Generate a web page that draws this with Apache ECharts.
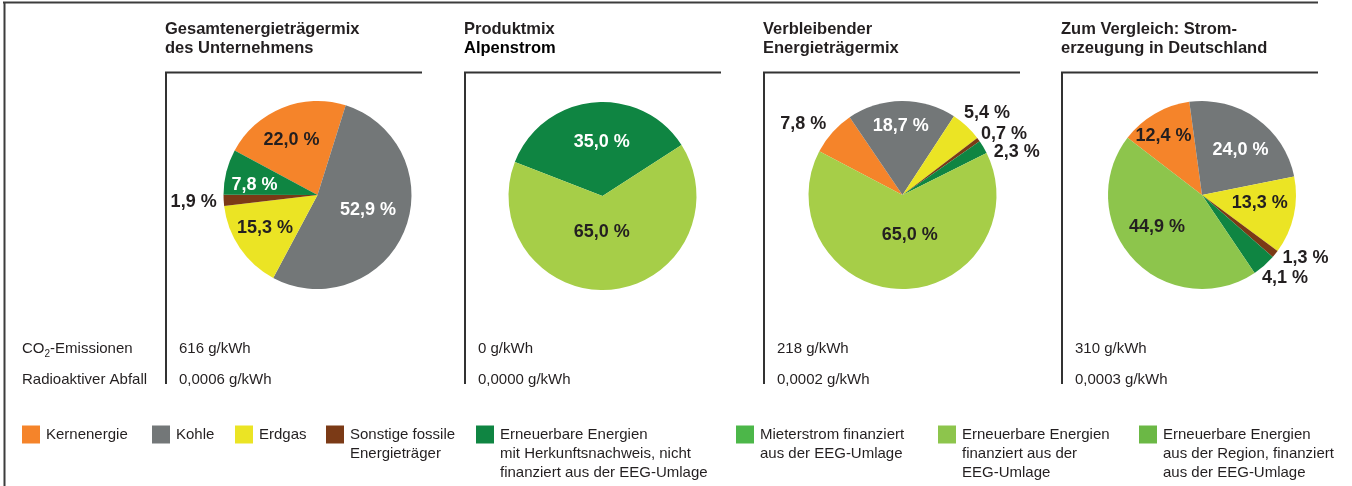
<!DOCTYPE html>
<html>
<head>
<meta charset="utf-8">
<title>Energieträgermix</title>
<script src="https://cdn.jsdelivr.net/npm/echarts@6/dist/echarts.min.js"></script>
<style>
html, body { margin: 0; padding: 0; background: #fff; }
#chart { width: 1352px; height: 486px; }
</style>
</head>
<body>
<div id="chart"></div>
<script>
// Energieträger (Reihenfolge wie in der Legende)
const categories = [
    'Kernenergie',
    'Kohle',
    'Erdgas',
    'Sonstige fossile Energieträger',
    'Erneuerbare Energien mit Herkunftsnachweis, nicht finanziert aus der EEG-Umlage',
    'Mieterstrom finanziert aus der EEG-Umlage',
    'Erneuerbare Energien finanziert aus der EEG-Umlage',
    'Erneuerbare Energien aus der Region, finanziert aus der EEG-Umlage'
]
const legendLines = [
    ['Kernenergie'],
    ['Kohle'],
    ['Erdgas'],
    ['Sonstige fossile', 'Energieträger'],
    ['Erneuerbare Energien', 'mit Herkunftsnachweis, nicht', 'finanziert aus der EEG-Umlage'],
    ['Mieterstrom finanziert', 'aus der EEG-Umlage'],
    ['Erneuerbare Energien', 'finanziert aus der', 'EEG-Umlage'],
    ['Erneuerbare Energien', 'aus der Region, finanziert', 'aus der EEG-Umlage']
]

// Anteile in %
const mixUnternehmen = [22.0, 52.9, 15.3, 1.9, 7.8, 0, 0, 0]
const mixAlpenstrom = [0, 0, 0, 0, 35.0, 0, 65.0, 0]
const mixVerbleibend = [7.8, 18.7, 5.4, 0.7, 2.3, 0, 65.0, 0]
const mixDeutschland = [12.4, 24.0, 13.3, 1.3, 4.1, 0, 44.9, 0]

const panelTitles = [
    ['Gesamtenergieträgermix', 'des Unternehmens'],
    ['Produktmix', 'Alpenstrom'],
    ['Verbleibender', 'Energieträgermix'],
    ['Zum Vergleich: Strom-', 'erzeugung in Deutschland']
]
// g/kWh
const co2Emissionen = [616, 0, 218, 310]
const radioaktiverAbfall = [0.0006, 0.0000, 0.0002, 0.0003]

// ---- Layout / Stil ----
const FONT = '"Liberation Sans", Arial, Helvetica, sans-serif'
const DARK = '#231f20'
const colors = ['#f5842a', '#737778', '#ebe424', '#7b3a16', '#0f8542', '#4cb749', '#8dc54c', '#6bb845']
const lightGreenAlt = '#a6ce48' // etwas hellerer Ton in Produktmix / Verbleibend
const panelLeft = [166, 465, 764, 1062]
const panelWidth = 256
const pieCenters = [[317.5, 195], [602.5, 196], [902.5, 195], [1202, 195]]
const R = 94
const startAngles = [151.8, 158.8, 152.3, 142.4]
// Beschriftung: [Radius-Anteil, Winkelkorrektur in Grad]
const labelPlace = [
    [[0.65, -3], [0.56, -6], [0.66, 2], [1.32, 0], [0.68, -5], null, null, null],
    [null, null, null, null, [0.57, 5], null, [0.38, 7], null],
    [[1.3, -6], [0.73, -1], [1.25, 3], [1.26, 5], [1.3, 10], null, [0.43, -11], null],
    [[0.75, -3], [0.63, 5], [0.62, -4.5], [1.29, -7.5], [1.25, -3.5], null, [0.59, 7.4], null]
]
const whiteLabel = [false, true, false, false, true, false, false, false]

const mixes = [mixUnternehmen, mixAlpenstrom, mixVerbleibend, mixDeutschland]

function fmt(v, d) {
    return v.toFixed(d).replace('.', ',')
}

// Mittelwinkel (von oben, im Uhrzeigersinn) je Segment
function midAngles(values, startAngle) {
    const total = values.reduce((a, b) => a + b, 0)
    let acc = 0
    return values.map(v => {
        const m = 90 - startAngle + ((acc + v / 2) / total) * 360
        acc += v
        return m
    })
}

const chart = echarts.init(document.getElementById('chart'))

const series = mixes.map((values, s) => {
    const mids = midAngles(values, startAngles[s])
    return {
        type: 'pie',
        center: pieCenters[s],
        radius: R,
        startAngle: startAngles[s],
        clockwise: true,
        avoidLabelOverlap: false,
        animation: false,
        emphasis: { disabled: true },
        itemStyle: { borderWidth: 0 },
        label: {
            position: 'inside',
            fontFamily: FONT,
            fontSize: 18,
            fontWeight: 'bold',
            formatter: p => fmt(p.value, 1) + ' %'
        },
        labelLine: { show: false },
        labelLayout: function (p) {
            const pl = labelPlace[s][p.dataIndex]
            if (!pl) return {}
            const a = ((mids[p.dataIndex] + pl[1]) * Math.PI) / 180
            const c = pieCenters[s]
            return {
                x: c[0] + pl[0] * R * Math.sin(a),
                y: c[1] - pl[0] * R * Math.cos(a),
                align: 'center',
                verticalAlign: 'middle'
            }
        },
        data: values.map((v, i) => {
            let col = colors[i]
            if (i === 6 && (s === 1 || s === 2)) col = lightGreenAlt
            const inside = labelPlace[s][i] && labelPlace[s][i][0] < 1
            return {
                name: categories[i],
                value: v,
                itemStyle: { color: col },
                label: {
                    show: v > 0,
                    color: inside && whiteLabel[i] ? '#ffffff' : DARK
                }
            }
        })
    }
})

// Legende: je Eintrag eine eigene Legende, erste Zeile auf Höhe des Kästchens
const legendLeft = [22, 152, 235, 326, 476, 736, 938, 1139]
const LH = 19
const iconY = 434.5
const legends = categories.map((name, i) => {
    const n = legendLines[i].length
    return {
        data: [name],
        left: legendLeft[i],
        top: iconY - ((2 * n - 1) * LH) / 2,
        orient: 'horizontal',
        padding: 0,
        icon: 'rect',
        itemWidth: 18,
        itemHeight: 18,
        selectedMode: false,
        formatter: () => new Array(n - 1).fill('').concat(legendLines[i]).join('\n'),
        textStyle: { fontFamily: FONT, fontSize: 15, color: DARK, lineHeight: LH, padding: [0, 0, 0, 1] }
    }
})

// Rahmen, Titel und Kennzahlen
const graphics = []
const frameColor = '#3c3c3c'
graphics.push({ type: 'line', shape: { x1: 3, y1: 2.5, x2: 1318, y2: 2.5 }, style: { stroke: frameColor, lineWidth: 2 } })
graphics.push({ type: 'line', shape: { x1: 4.5, y1: 2, x2: 4.5, y2: 486 }, style: { stroke: frameColor, lineWidth: 2 } })
panelLeft.forEach((x, s) => {
    graphics.push({
        type: 'polyline',
        shape: { points: [[x, 384], [x, 72.5], [x + panelWidth, 72.5]] },
        style: { stroke: '#333', lineWidth: 2, fill: null }
    })
    panelTitles[s].forEach((t, k) => {
        graphics.push({
            type: 'text',
            x: x - 1,
            y: 29.5 + k * 19,
            style: {
                text: t,
                fontFamily: FONT,
                fontSize: 16.5,
                fontWeight: 'bold',
                fill: s === 1 && k === 1 ? '#000' : DARK,
                verticalAlign: 'middle'
            }
        })
    })
    graphics.push({
        type: 'text',
        x: x + 13,
        y: 349,
        style: { text: co2Emissionen[s] + ' g/kWh', fontFamily: FONT, fontSize: 15, fill: DARK, verticalAlign: 'middle' }
    })
    graphics.push({
        type: 'text',
        x: x + 13,
        y: 380,
        style: { text: fmt(radioaktiverAbfall[s], 4) + ' g/kWh', fontFamily: FONT, fontSize: 15, fill: DARK, verticalAlign: 'middle' }
    })
})
graphics.push({
    type: 'text',
    x: 22,
    y: 349,
    style: {
        text: '{a|CO}{s|2}{a|-Emissionen}',
        verticalAlign: 'middle',
        rich: {
            a: { fontFamily: FONT, fontSize: 15, fill: DARK, lineHeight: 20 },
            s: { fontFamily: FONT, fontSize: 10, fill: DARK, lineHeight: 12, verticalAlign: 'bottom' }
        }
    }
})
graphics.push({
    type: 'text',
    x: 22,
    y: 380,
    style: { text: 'Radioaktiver Abfall', fontFamily: FONT, fontSize: 15, fill: DARK, verticalAlign: 'middle' }
})

chart.setOption({
    backgroundColor: '#ffffff',
    animation: false,
    legend: legends,
    graphic: graphics,
    series: series
})
</script>
</body>
</html>
